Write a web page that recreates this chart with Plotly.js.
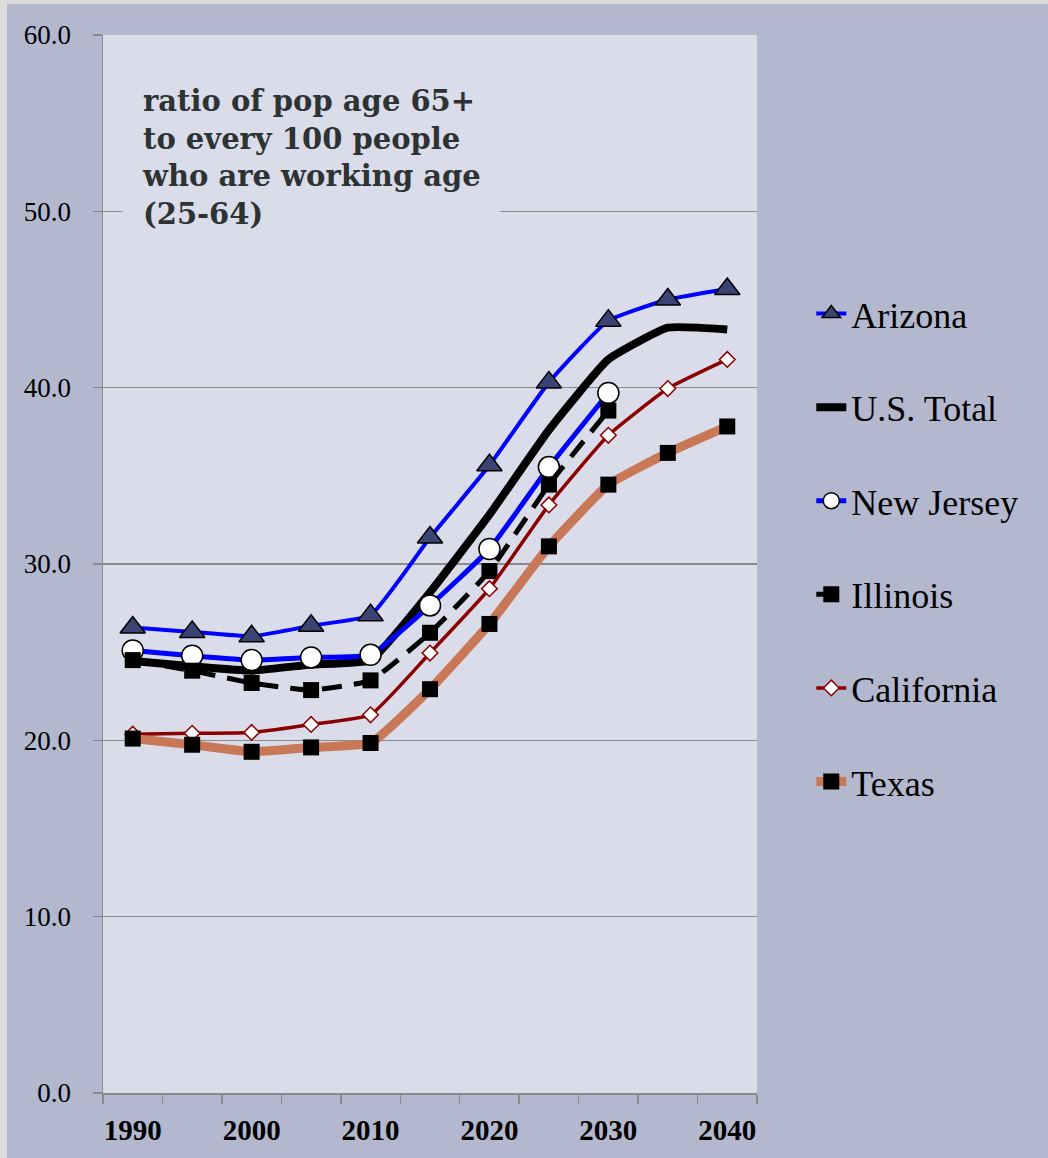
<!DOCTYPE html>
<html>
<head>
<meta charset="utf-8">
<script src="https://cdn.plot.ly/plotly-3.0.1.min.js"></script>
<style>
  html, body { margin: 0; padding: 0; background: #dcdcdc; }
  #chart { position: absolute; left: 7px; top: 4px; width: 1041px; height: 1154px; }
</style>
</head>
<body>
<div id="chart"></div>
<script>
// ---- data ----
const years = [1990, 1995, 2000, 2005, 2010, 2015, 2020, 2025, 2030, 2035, 2040];
const tickYears = [1990, 2000, 2010, 2020, 2030, 2040];

const arizona    = [26.4, 26.15, 25.9, 26.5, 27.1, 31.5, 35.6, 40.3, 43.8, 45.0, 45.6];
const usTotal    = [24.5, 24.2, 23.95, 24.3, 24.55, 28.4, 32.8, 37.6, 41.6, 43.4, 43.3];
const newJersey  = [25.1, 24.8, 24.55, 24.7, 24.85, 27.65, 30.85, 35.5, 39.7];
const illinois   = [24.55, 23.95, 23.25, 22.85, 23.4, 26.1, 29.6, 34.5, 38.7];
const california = [20.35, 20.4, 20.45, 20.9, 21.45, 24.95, 28.6, 33.35, 37.3, 39.95, 41.6];
const texas      = [20.1, 19.75, 19.35, 19.6, 19.85, 22.9, 26.6, 31.0, 34.5, 36.3, 37.8];

const seriesNames = ['Arizona', 'U.S. Total', 'New Jersey', 'Illinois', 'California', 'Texas'];
const noteText = 'ratio of pop age 65+<br>to every 100 people<br>who are working age<br>(25-64)';

// ---- styling ----
const SERIF = '"Liberation Serif", "Times New Roman", serif';
const NOTE_SERIF = '"DejaVu Serif", Georgia, serif';
const SMOOTH = 0.4;
function yrs(arr) { return years.slice(0, arr.length); }

const traces = [
  {
    name: seriesNames[0], x: yrs(arizona), y: arizona, legendgroup: 'a',
    mode: 'lines+markers', line: { color: '#0000ff', width: 4, shape: 'spline', smoothing: SMOOTH },
    marker: { symbol: 'triangle-up', size: 22, color: '#3a4372', line: { color: '#000000', width: 1.5 } }
  },
  {
    name: seriesNames[1], x: yrs(usTotal), y: usTotal, legendgroup: 'b',
    mode: 'lines', line: { color: '#000000', width: 8, shape: 'spline', smoothing: SMOOTH }
  },
  {
    name: seriesNames[2], x: yrs(newJersey), y: newJersey, legendgroup: 'c',
    mode: 'lines+markers', line: { color: '#0000ff', width: 5, shape: 'spline', smoothing: SMOOTH },
    marker: { symbol: 'circle', size: 21, color: '#ffffff', line: { color: '#000000', width: 1.5 } }
  },
  {
    name: seriesNames[3], x: yrs(illinois), y: illinois, legendgroup: 'd',
    mode: 'lines+markers', line: { color: '#000000', width: 5, dash: '20px,12px', shape: 'spline', smoothing: SMOOTH },
    marker: { symbol: 'square', size: 16, color: '#000000' }
  },
  {
    name: seriesNames[4], x: yrs(california), y: california, legendgroup: 'e',
    mode: 'lines+markers', line: { color: '#8b0000', width: 3.5, shape: 'spline', smoothing: SMOOTH },
    marker: { symbol: 'diamond', size: 12, color: '#ffffff', line: { color: '#8b0000', width: 1.5 } }
  },
  {
    name: seriesNames[5], x: yrs(texas), y: texas, legendgroup: 'f',
    mode: 'lines+markers', line: { color: '#c87757', width: 9, shape: 'spline', smoothing: SMOOTH },
    marker: { symbol: 'square', size: 16, color: '#000000' }
  }
];

const layout = {
  width: 1041, height: 1154,
  margin: { l: 96, r: 291, t: 31, b: 65 },
  paper_bgcolor: '#b3b8ce',
  plot_bgcolor: '#dadcea',
  showlegend: true,
  hovermode: false,
  xaxis: {
    range: [1987.5, 2042.5],
    tickmode: 'array', tickvals: tickYears, ticktext: tickYears.map(String),
    ticks: 'outside', ticklen: 9, tickcolor: 'rgba(0,0,0,0)',
    ticklabelstandoff: 2,
    minor: { tick0: 1987.5, dtick: 5, ticks: 'outside', ticklen: 9, tickwidth: 1.5, tickcolor: '#8a8a8a', showgrid: false },
    showgrid: false, zeroline: false,
    showline: true, linecolor: '#8a8a8a', linewidth: 1.5,
    tickfont: { family: SERIF, size: 29, color: '#000000', weight: 'bold' }
  },
  yaxis: {
    range: [0, 60], dtick: 10, tick0: 0, tickformat: '.1f',
    ticks: 'outside', ticklen: 9, tickwidth: 1.5, tickcolor: '#8a8a8a',
    ticklabelstandoff: 16,
    showgrid: true, gridcolor: '#8a8a8a', gridwidth: 1.5,
    zeroline: false,
    showline: true, linecolor: '#8a8a8a', linewidth: 1.5,
    tickfont: { family: SERIF, size: 27, color: '#000000' }
  },
  legend: {
    x: 1.083, xanchor: 'left', y: 0.765, yanchor: 'top',
    bgcolor: 'rgba(0,0,0,0)', borderwidth: 0,
    traceorder: 'grouped', tracegroupgap: 43.8,
    font: { family: SERIF, size: 36, color: '#000000' }
  },
  annotations: [{
    xref: 'paper', yref: 'paper', x: 0.029, y: 0.973, xanchor: 'left', yanchor: 'top',
    text: noteText, showarrow: false, align: 'left',
    bgcolor: '#dadcea', borderpad: 19,
    font: { family: NOTE_SERIF, size: 29, color: '#2d3333', weight: 'bold' }
  }]
};

Plotly.newPlot('chart', traces, layout, { displayModeBar: false, staticPlot: true });
</script>
</body>
</html>
